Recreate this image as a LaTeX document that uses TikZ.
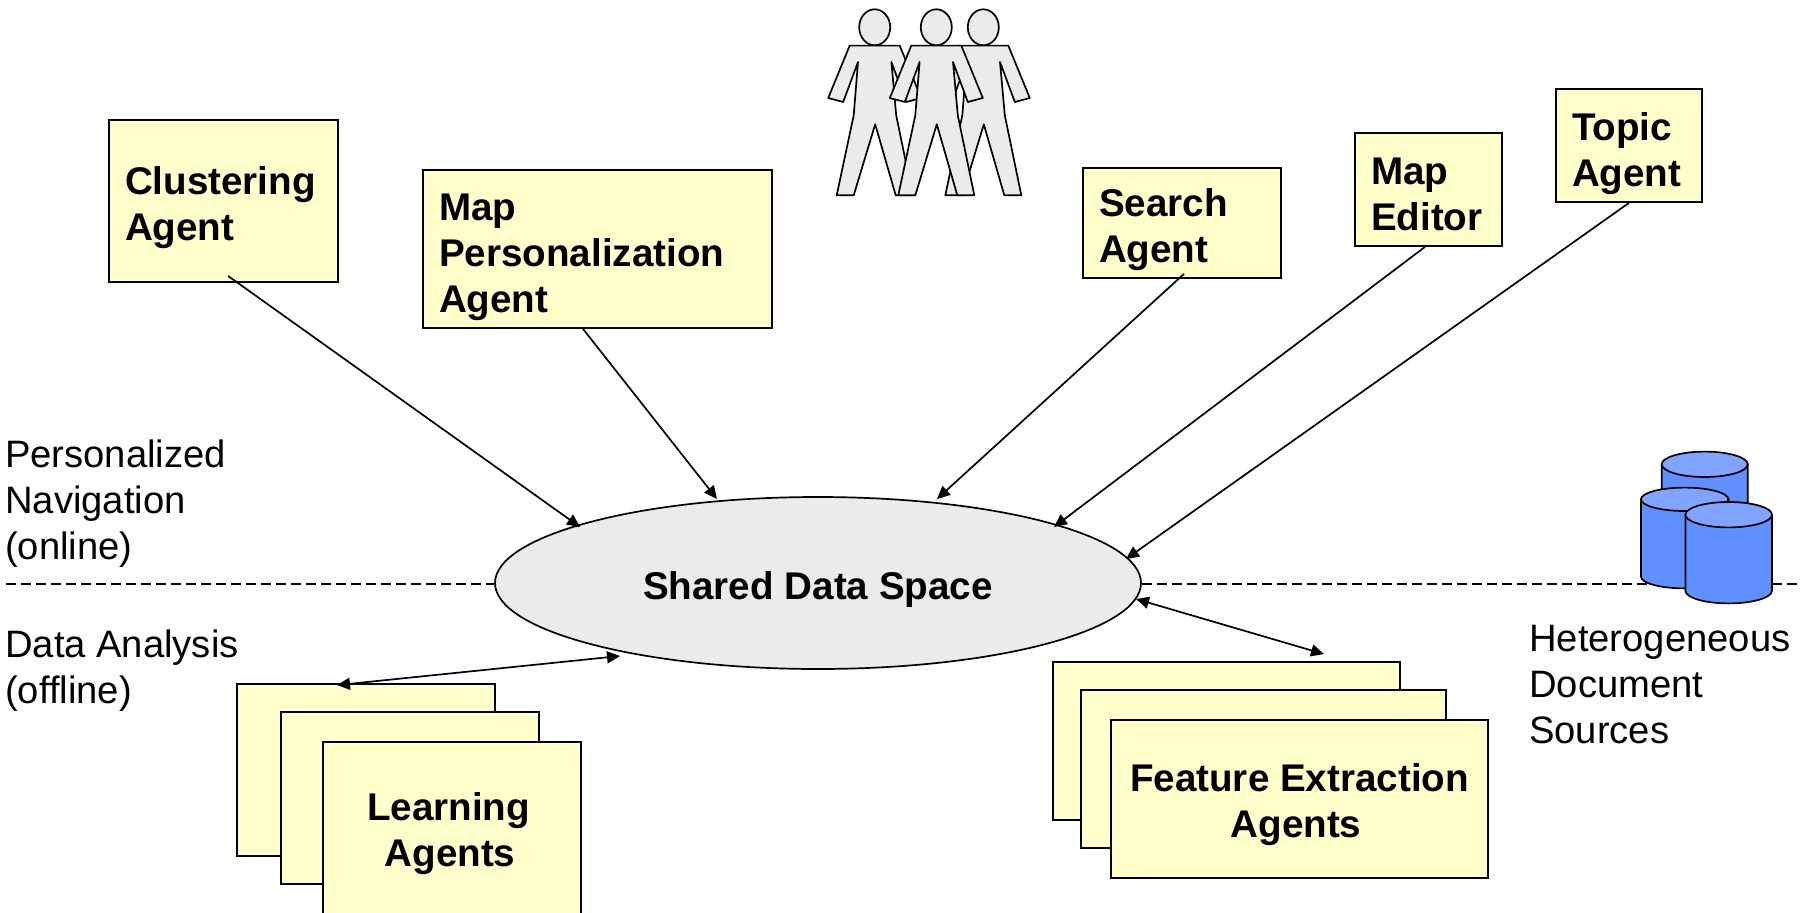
\documentclass[tikz,border=0pt]{standalone}
\usepackage{fontspec}
\setmainfont{Liberation Sans}
\usetikzlibrary{shapes.geometric,arrows.meta,calc}
\definecolor{boxyellow}{HTML}{FFFFCC}
\definecolor{spacegrey}{HTML}{EBEBEB}
\definecolor{dbbody}{HTML}{6090FF}
\definecolor{dbtop}{HTML}{80A4FF}
\tikzset{
  textdown/.style={execute at begin node={\rule{0pt}{#1}}},
  agentbox/.style 2 args={draw=black,line width=1.8pt,fill=boxyellow,rectangle,
    minimum width=#1,minimum height=#2,inner xsep=16pt,inner ysep=0pt,
    text width=#1-32pt,align=flush left,font=\fontsize{38.6}{46}\selectfont\bfseries},
  stackbox/.style 2 args={draw=black,line width=1.8pt,fill=boxyellow,rectangle,
    minimum width=#1,minimum height=#2,inner sep=0pt,text width=#1,
    align=flush center,font=\fontsize{38.6}{46}\selectfont\bfseries},
  conn/.style={line width=1.7pt,-{Triangle[length=13pt,width=12pt]}},
  biconn/.style={line width=1.7pt,{Triangle[length=13pt,width=12pt]}-{Triangle[length=13pt,width=12pt]}},
  sidelabel/.style={anchor=north west,inner sep=0pt,align=left,font=\fontsize{38.2}{46}\selectfont},
  divider/.style={line width=1.5pt,dash pattern=on 10pt off 5pt},
  personline/.style={draw=black,line width=1.7pt,fill=spacegrey,line join=round},
  dbline/.style={draw=black,line width=1.7pt},
  person/.pic={
    \path[personline] (0,0) ellipse[x radius=15.5,y radius=18];
    \path[personline] (-25,18.3) -- (25,18.3) -- (46.5,70.7) -- (31.5,74.7) -- (16.7,34.7)
      -- (21.5,88) -- (38,168) -- (21,168) -- (0.5,97) -- (-21,168) -- (-38,168)
      -- (-21,88) -- (-16.7,34.7) -- (-31.5,74.7) -- (-46.5,70.7) -- cycle;
  }
}
\newcommand{\dbcyl}[5]{%
  \path[dbline,fill=dbbody] (#1-#4,#2) -- (#1-#4,#3) arc[start angle=180,end angle=0,x radius=#4,y radius=#5] -- (#1+#4,#2) -- cycle;
  \path[dbline,fill=dbtop] (#1,#2) ellipse[x radius=#4,y radius=#5];
}
\begin{document}
\begin{tikzpicture}[x=1pt,y=-1pt]
\useasboundingbox (0,0) rectangle (1800,913);
% people
\pic at (874.7,27.3) {person};
\pic at (983.3,27.3) {person};
\pic at (936.3,27.3) {person};
% agents
\node[agentbox={229pt}{162pt},textdown=40.6pt] (clust) at (223.5,201) {Clustering\\Agent};
\node[agentbox={349pt}{158pt},textdown=44pt] (mapp) at (597.5,249) {Map\\Personalization\\Agent};
\node[agentbox={198pt}{110pt},textdown=40.5pt] (search) at (1182,223) {Search\\Agent};
\node[agentbox={147pt}{113pt},textdown=37pt] (mapedit) at (1428.5,189.5) {Map\\Editor};
\node[agentbox={146pt}{113pt},textdown=45pt] (topic) at (1629,145.5) {Topic\\Agent};
% stacks
\node[stackbox={258pt}{172pt}] (learnA) at (366,770) {};
\node[stackbox={258pt}{172pt}] (learnB) at (410,798) {};
\node[stackbox={258pt}{172pt},textdown=39pt] (learnC) at (452,828) {Learning\rule{7pt}{0pt}\\Agents\rule{4pt}{0pt}};
\node[stackbox={347pt}{158pt}] (featA) at (1226.5,741) {};
\node[stackbox={365pt}{158pt}] (featB) at (1263.5,769) {};
\node[stackbox={377pt}{158pt},textdown=40pt] (featC) at (1299.5,799) {Feature Extraction\\Agents\rule{7pt}{0pt}};
% shared space
\node[ellipse,draw=black,line width=1.7pt,fill=spacegrey,minimum width=646pt,minimum height=172pt,inner sep=0pt,
  text width=420pt,align=flush center,textdown=41pt,
  font=\fontsize{38.6}{44}\selectfont\bfseries] (space) at (818,583) {Shared Data Space};
% dividers
\coordinate (dashL) at (6,584);
\coordinate (dashR) at (1800,584);
\draw[divider] (dashL) -- (space.west |- dashL);
\draw[divider] (space.east |- dashR) -- (dashR);
% databases
\dbcyl{1704.7}{464.3}{520}{43}{12.7}
\dbcyl{1684.7}{499.3}{576.7}{43.7}{11.7}
\dbcyl{1728.7}{514.7}{590.7}{43.3}{12.7}
% connectors
\draw[conn] ($(clust.south)+(4.5,-7)$) -- ($(space.center)+(-238,-56)$);
\draw[conn] ($(mapp.south)+(-14.5,0)$) -- ($(space.center)+(-101,-84)$);
\draw[conn] ($(search.south)+(2,-5)$) -- ($(space.center)+(119,-84)$);
\draw[conn] ($(mapedit.south)+(-3.5,0)$) -- ($(space.center)+(236,-56)$);
\draw[conn] (topic.south) -- ($(space.center)+(308,-24)$);
\draw[biconn] ($(featA.north)+(97.5,-7)$) -- ($(space.center)+(318,16)$);
\draw[biconn] ($(learnA.north)+(-29,2)$) -- ($(space.center)+(-198,73)$);
% labels
\node[sidelabel] (online) at (5,440) {Personalized\\Navigation\\(online)};
\node[sidelabel] (offline) at (5,630) {Data Analysis\\(offline)};
\node[sidelabel] (sources) at (1529,625) {Heterogeneous\\Document\\Sources};
\end{tikzpicture}
\end{document}
